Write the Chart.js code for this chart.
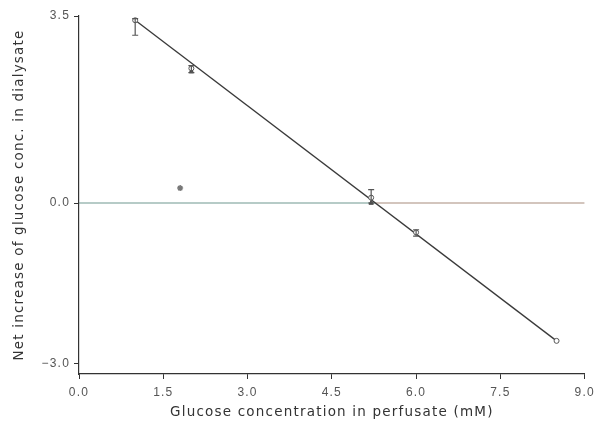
<!DOCTYPE html>
<html>
<head>
<meta charset="utf-8">
<script src="https://cdn.jsdelivr.net/npm/chart.js@4"></script>
<style>
  html, body { margin: 0; padding: 0; background: #fff; }
  #wrap { width: 599px; height: 432px; }
</style>
</head>
<body>
<div id="wrap"><canvas id="glucoseChart" width="599" height="432"></canvas></div>
<script>
// valores
const glucoseX = [1.0, 2.0, 5.2, 6.0, 8.5];
const netIncrease = [3.42, 2.52, 0.10, -0.55, -2.58];
const errUp = [0.03, 0.05, 0.15, 0.05, 0.0];
const errDown = [0.28, 0.08, 0.10, 0.07, 0.0];
const secondX = [2.0, 5.2];
const secondY = [2.46, 0.0];
const outlierX = [1.8];
const outlierY = [0.28];
const fitX = [1.0, 8.5];
const fitY = [3.42, -2.58];
const zeroLeftX = [0, 5.27];
const zeroRightX = [5.27, 9.0];
const yTicks = [3.5, 0.0, -3.0];
const xTicks = [0, 1.5, 3.0, 4.5, 6.0, 7.5, 9.0];

function pares(xs, ys) {
    return xs.map((x, i) => ({ x: x, y: ys[i] }));
}

const barrasErro = {
    id: 'barrasErro',
    afterDatasetsDraw(chart) {
        const ctx = chart.ctx;
        const sx = chart.scales.x;
        const sy = chart.scales.y;
        ctx.save();
        ctx.strokeStyle = '#555';
        ctx.lineWidth = 1.2;
        glucoseX.forEach((x, i) => {
            if (errUp[i] === 0 && errDown[i] === 0) return;
            const px = sx.getPixelForValue(x);
            const top = sy.getPixelForValue(netIncrease[i] + errUp[i]);
            const bot = sy.getPixelForValue(netIncrease[i] - errDown[i]);
            ctx.beginPath();
            ctx.moveTo(px, top); ctx.lineTo(px, bot);
            ctx.moveTo(px - 3, top); ctx.lineTo(px + 3, top);
            ctx.moveTo(px - 3, bot); ctx.lineTo(px + 3, bot);
            ctx.stroke();
        });
        ctx.restore();
    }
};

const espacamento = {
    id: 'espacamento',
    beforeDraw(chart) {
        chart.ctx.letterSpacing = '1.2px';
    }
};

const ctx = document.getElementById('glucoseChart').getContext('2d');
new Chart(ctx, {
    type: 'scatter',
    data: {
        datasets: [
            {
                data: pares(glucoseX, netIncrease),
                pointStyle: 'circle',
                pointRadius: 2.5,
                borderColor: '#555',
                backgroundColor: '#fff',
                borderWidth: 1,
                order: 0
            },
            {
                data: pares(secondX, secondY),
                pointStyle: 'triangle',
                pointRadius: 2.5,
                borderColor: '#444',
                backgroundColor: '#444',
                borderWidth: 1,
                order: 1
            },
            {
                data: pares(outlierX, outlierY),
                pointStyle: 'star',
                pointRadius: 3,
                borderColor: '#777',
                backgroundColor: '#777',
                borderWidth: 1.5,
                order: 1
            },
            {
                type: 'line',
                data: pares(fitX, fitY),
                borderColor: '#3a3a3a',
                borderWidth: 1.3,
                pointRadius: 0,
                order: 2
            },
            {
                type: 'line',
                data: pares(zeroLeftX, [0, 0]),
                borderColor: '#6f9890',
                borderWidth: 1.2,
                pointRadius: 0,
                order: 3
            },
            {
                type: 'line',
                data: pares(zeroRightX, [0, 0]),
                borderColor: '#a88c7c',
                borderWidth: 1.2,
                pointRadius: 0,
                order: 3
            }
        ]
    },
    options: {
        responsive: false,
        animation: false,
        layout: { padding: { top: 16, right: 10, left: 0, bottom: 0 } },
        plugins: {
            legend: { display: false },
            tooltip: { enabled: false }
        },
        scales: {
            x: {
                type: 'linear',
                min: 0,
                max: 9,
                afterBuildTicks: (scale) => { scale.ticks = xTicks.map(v => ({ value: v })); },
                afterFit: (scale) => { scale.height = 58; },
                border: { display: true, color: '#333', width: 1.2 },
                grid: { display: true, drawOnChartArea: false, drawTicks: true, tickLength: 5, color: '#333' },
                ticks: {
                    color: '#555',
                    font: { family: 'Liberation Sans', size: 12 },
                    padding: 6,
                    maxRotation: 0,
                    callback: (v) => Number(v).toFixed(1)
                },
                title: {
                    display: true,
                    text: 'Glucose concentration in perfusate (mM)',
                    color: '#333',
                    font: { family: 'DejaVu Sans', size: 13.5 },
                    padding: { top: 0, bottom: 11 }
                }
            },
            y: {
                type: 'linear',
                min: -3.2,
                max: 3.5,
                afterBuildTicks: (scale) => { scale.ticks = yTicks.map(v => ({ value: v })); },
                afterFit: (scale) => { scale.width = 79; },
                border: { display: true, color: '#333', width: 1.2 },
                grid: { display: true, drawOnChartArea: false, drawTicks: true, tickLength: 5, color: '#333' },
                ticks: {
                    color: '#555',
                    font: { family: 'Liberation Sans', size: 12 },
                    padding: 4,
                    callback: (v) => (v < 0 ? '\u2212' : '') + Math.abs(v).toFixed(1)
                },
                title: {
                    display: true,
                    text: 'Net increase of glucose conc. in dialysate',
                    color: '#333',
                    font: { family: 'DejaVu Sans', size: 13.5 },
                    padding: { top: 11, bottom: 0 }
                }
            }
        }
    },
    plugins: [barrasErro, espacamento]
});
</script>
</body>
</html>
